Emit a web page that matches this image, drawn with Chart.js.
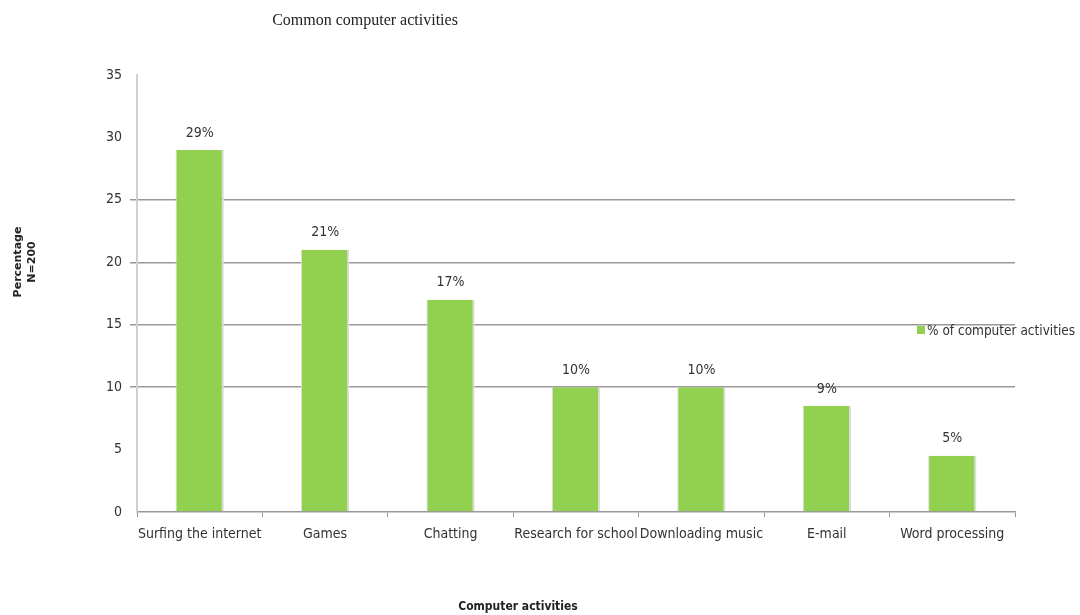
<!DOCTYPE html>
<html>
<head>
<meta charset="utf-8">
<script src="https://cdn.jsdelivr.net/npm/chart.js@4"></script>
<style>
  body { margin: 0; background: #fff; }
  #wrap { width: 1080px; height: 615px; }
</style>
</head>
<body>
<div id="wrap"><canvas id="myChart" width="1080" height="615"></canvas></div>
<script>
const activities = ["Surfing the internet", "Games", "Chatting", "Research for school",
  "Downloading music", "E-mail", "Word processing"];
const percent = [29, 21, 17, 10, 10, 8.5, 4.5];
const yTicks = [0, 5, 10, 15, 20, 25, 30, 35];
const gridValues = [10, 15, 20, 25];

const narrow = "'Liberation Sans Narrow', 'DejaVu Sans Condensed', sans-serif";

// titles, legend and value labels drawn by hand
const extras = {
  id: "extras",
  afterDatasetsDraw(chart) {
    const ctx = chart.ctx;
    const ds = chart.data.datasets[0];
    ctx.save();

    // value labels over the bars
    ctx.fillStyle = "#333";
    ctx.font = "14px " + narrow;
    ctx.textAlign = "center";
    ctx.textBaseline = "bottom";
    chart.getDatasetMeta(0).data.forEach((bar, i) => {
      ctx.fillText(Math.round(ds.data[i]) + "%", bar.x, bar.y - 10);
    });

    // chart title
    ctx.font = "16px 'Liberation Serif', serif";
    ctx.fillStyle = "#222";
    ctx.textBaseline = "middle";
    ctx.fillText("Common computer activities", 365, 21);

    // x axis title
    ctx.font = "bold 12px 'DejaVu Sans Condensed', sans-serif";
    ctx.fillText("Computer activities", 518, 607);

    // y axis title
    ctx.save();
    ctx.translate(25, 262);
    ctx.rotate(-Math.PI / 2);
    ctx.font = "bold 11px 'DejaVu Sans', sans-serif";
    ctx.fillText("Percentage", 0, -7);
    ctx.fillText("N=200", 0, 7);
    ctx.restore();

    // legend
    ctx.fillStyle = ds.backgroundColor;
    ctx.fillRect(917, 326, 8, 8);
    ctx.fillStyle = "#333";
    ctx.font = "13.5px " + narrow;
    ctx.textAlign = "left";
    ctx.fillText(ds.label, 927, 331);

    ctx.restore();
  }
};

new Chart(document.getElementById("myChart"), {
  type: "bar",
  data: {
    labels: activities,
    datasets: [{
      label: "% of computer activities",
      data: percent,
      backgroundColor: "#92d050",
      borderColor: "#dcdcdc",
      borderWidth: { left: 1, right: 2, top: 0, bottom: 0 },
      borderSkipped: false,
      categoryPercentage: 1,
      barPercentage: 0.385
    }]
  },
  options: {
    responsive: false,
    animation: false,
    layout: { padding: { top: 75, right: 65, left: 0, bottom: 0 } },
    plugins: {
      legend: { display: false },
      title: { display: false },
      tooltip: { enabled: false }
    },
    scales: {
      x: {
        afterFit: (s) => { s.height = 103; },
        grid: {
          offset: true,
          drawOnChartArea: false,
          tickLength: 5,
          color: "#999"
        },
        border: { color: "#999", width: 1.5 },
        ticks: {
          color: "#333",
          font: { family: narrow, size: 14 },
          padding: 9,
          maxRotation: 0,
          autoSkip: false
        }
      },
      y: {
        min: 0,
        max: 35,
        afterFit: (s) => { s.width = 137; },
        afterBuildTicks: (s) => { s.ticks = yTicks.map(v => ({ value: v })); },
        grid: {
          color: (c) => gridValues.includes(c.tick.value) ? "#999" : "transparent",
          lineWidth: 1.5,
          tickLength: 7
        },
        border: { color: "#d0d0d0", width: 2 },
        ticks: {
          color: "#333",
          font: { family: narrow, size: 14 },
          padding: 8
        }
      }
    }
  },
  plugins: [extras]
});
</script>
</body>
</html>
